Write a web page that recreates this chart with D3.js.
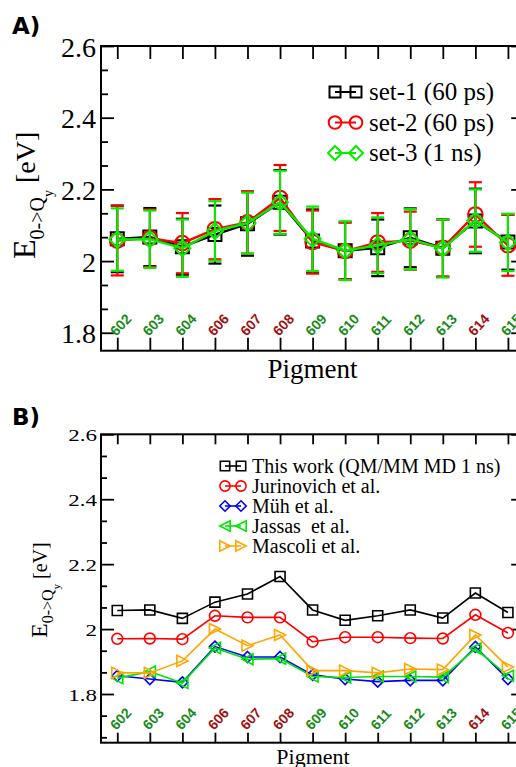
<!DOCTYPE html>
<html>
<head>
<meta charset="utf-8">
<script src="https://cdn.jsdelivr.net/npm/d3@7"></script>
<style>
  body { margin: 0; background: #fff; }
  svg { display: block; }
</style>
</head>
<body>
<script>
// Pigment sites along the x axis
const pigments = ['602','603','604','606','607','608','609','610','611','612','613','614','615'];
// Sites labelled in dark red, the rest in dark green
const redSites = ['606','607','608','614'];

// Panel A: three QM/MM MD sampling sets (value and half error bar, eV)
const set1 = [2.062, 2.067, 2.040, 2.074, 2.104, 2.164, 2.056, 2.029, 2.037, 2.065, 2.036, 2.112, 2.053];
const set1Err = [0.093, 0.081, 0.078, 0.081, 0.089, 0.090, 0.088, 0.080, 0.079, 0.082, 0.080, 0.090, 0.077];
const set2 = [2.057, 2.064, 2.050, 2.089, 2.108, 2.176, 2.053, 2.028, 2.052, 2.057, 2.037, 2.130, 2.044];
const set2Err = [0.097, 0.080, 0.084, 0.084, 0.087, 0.092, 0.088, 0.079, 0.082, 0.081, 0.080, 0.090, 0.085];
const set3 = [2.060, 2.061, 2.036, 2.084, 2.106, 2.164, 2.062, 2.029, 2.044, 2.061, 2.035, 2.113, 2.052];
const set3Err = [0.087, 0.080, 0.080, 0.083, 0.085, 0.088, 0.090, 0.082, 0.078, 0.084, 0.081, 0.087, 0.080];
const setNames = ['set-1 (60 ps)', 'set-2 (60 ps)', 'set-3 (1 ns)'];

// Panel B: comparison with literature (eV)
const thisWork   = [2.057, 2.059, 2.033, 2.083, 2.108, 2.162, 2.059, 2.027, 2.041, 2.059, 2.034, 2.111, 2.051];
const jurinovich = [1.970, 1.971, 1.969, 2.041, 2.036, 2.036, 1.961, 1.975, 1.975, 1.972, 1.971, 2.044, 1.988];
const muh        = [1.856, 1.846, 1.836, 1.946, 1.914, 1.914, 1.859, 1.846, 1.838, 1.842, 1.842, 1.945, 1.846];
const jassas     = [1.849, 1.869, 1.834, 1.942, 1.907, 1.909, 1.854, 1.851, 1.854, 1.854, 1.852, 1.940, 1.856];
const mascoli    = [1.865, 1.865, 1.902, 2.000, 1.949, 1.982, 1.872, 1.872, 1.865, 1.877, 1.875, 1.982, 1.883];
const refNames = ['This work (QM/MM MD 1 ns)', 'Jurinovich et al.', 'Müh et al.', 'Jassas  et al.', 'Mascoli et al.'];

// Axis tick labels
const yTicks = [1.8, 2.0, 2.2, 2.4, 2.6];

const SERIF = '"Liberation Serif", "Times New Roman", serif';
const SANS = '"Liberation Sans", Arial, sans-serif';

const svg = d3.select('body').append('svg').attr('width', 516).attr('height', 767);
svg.append('rect').attr('width', 516).attr('height', 767).attr('fill', '#fff');

const x = d3.scalePoint().domain(pigments).range([101, 524.2]).padding(0.5);
const yA = d3.scaleLinear().domain([1.75, 2.6]).range([350.7, 46]);
const yB = d3.scaleLinear().domain([1.65, 2.6]).range([742.7, 434.3]);

const fmt = d => String(+d.toFixed(1));

// two minor ticks between each pair of major ticks
function minorValues(lo) {
  const out = [];
  for (let k = 1; ; k++) {
    const v = 2.6 - k * 0.2 / 3;
    if (v < lo) break;
    if (k % 3 !== 0) out.push(v);
  }
  return out;
}

// symbol outlines centred on 0,0
function markerPath(type, r) {
  switch (type) {
    case 'square':   return `M${-r},${-r}H${r}V${r}H${-r}Z`;
    case 'diamond':  return `M0,${-r}L${r},0L0,${r}L${-r},0Z`;
    case 'triLeft':  return `M${-r},0L${r},${-r}L${r},${r}Z`;
    case 'triRight': return `M${r},0L${-r},${-r}L${-r},${r}Z`;
  }
}

function drawMarker(g, type, cx, cy, r, color, sw) {
  if (type === 'circle') {
    g.append('circle').attr('cx', cx).attr('cy', cy).attr('r', r)
      .attr('fill', 'none').attr('stroke', color).attr('stroke-width', sw);
  } else {
    g.append('path').attr('d', markerPath(type, r))
      .attr('transform', `translate(${cx},${cy})`)
      .attr('fill', 'none').attr('stroke', color).attr('stroke-width', sw)
      .attr('stroke-linejoin', 'miter');
  }
}

function drawFrame(g, y, o) {
  const [yb, yt] = y.range();
  const x0 = x.range()[0], x1 = x.range()[1];
  const style = sel => {
    sel.select('.domain').remove();
    sel.selectAll('line').attr('stroke', '#000').attr('stroke-width', 1.8);
  };
  // left: major with labels, minor without
  const left = g.append('g').attr('transform', `translate(${x0},0)`)
    .call(d3.axisLeft(y).tickValues(yTicks).tickSizeInner(-o.majorY).tickSizeOuter(0)
      .tickPadding(o.labelPad).tickFormat(fmt));
  style(left);
  left.selectAll('text')
    .style('font-family', SERIF).style('font-size', o.tickFont + 'px')
    .attr('fill', '#000')
    .attr('dy', '0.36em')
    .attr('transform', `scale(1,${o.tickSquash})`);
  const leftMinor = g.append('g').attr('transform', `translate(${x0},0)`)
    .call(d3.axisLeft(y).tickValues(minorValues(y.domain()[0])).tickSizeInner(-o.minorY).tickSizeOuter(0).tickFormat(''));
  style(leftMinor);
  // right mirror
  const right = g.append('g').attr('transform', `translate(${x1},0)`)
    .call(d3.axisRight(y).tickValues(yTicks).tickSizeInner(-o.majorY).tickSizeOuter(0).tickFormat(''));
  style(right);
  const rightMinor = g.append('g').attr('transform', `translate(${x1},0)`)
    .call(d3.axisRight(y).tickValues(minorValues(y.domain()[0])).tickSizeInner(-o.minorY).tickSizeOuter(0).tickFormat(''));
  style(rightMinor);
  // top and bottom
  const top = g.append('g').attr('transform', `translate(0,${yt})`)
    .call(d3.axisTop(x).tickSizeInner(-o.majorX).tickSizeOuter(0).tickFormat(''));
  style(top);
  const bottom = g.append('g').attr('transform', `translate(0,${yb})`)
    .call(d3.axisBottom(x).tickSizeInner(-o.majorX).tickSizeOuter(0).tickFormat(''));
  style(bottom);
  g.append('rect').attr('x', x0).attr('y', yt).attr('width', x1 - x0).attr('height', yb - yt)
    .attr('fill', 'none').attr('stroke', '#000').attr('stroke-width', 2);

  // pigment names, slanted, sitting on the bottom ticks
  const labels = g.append('g').attr('class', 'pigment-labels');
  pigments.forEach(p => {
    labels.append('g')
      .attr('transform', `translate(${x(p) - 1},${yb - o.pigLift}) rotate(-47)`)
      .append('text')
      .attr('x', 0).attr('y', 0)
      .style('font-family', SANS)
      .style('font-weight', 'bold')
      .style('font-size', '14px')
      .attr('fill', redSites.includes(p) ? '#a01010' : '#178a17')
      .text(p);
  });
}

function yTitle(g, tx, ty, sizes) {
  const t = g.append('text').attr('transform', `translate(${tx},${ty}) rotate(-90)`)
    .style('font-family', SERIF);
  t.append('tspan').style('font-size', sizes[0] + 'px').text('E');
  t.append('tspan').style('font-size', sizes[1] + 'px').attr('dy', sizes[3]).text('0->Q');
  t.append('tspan').style('font-size', sizes[2] + 'px').attr('dy', sizes[4]).text('y');
  t.append('tspan').style('font-size', sizes[5] + 'px').attr('dy', -(sizes[3] + sizes[4]))
    .style('white-space', 'pre').text(' [eV]');
}

function plainText(g, tx, ty, size, str, anchor) {
  return g.append('text').attr('x', tx).attr('y', ty)
    .attr('text-anchor', anchor || 'start')
    .style('font-family', SERIF).style('font-size', size + 'px')
    .style('white-space', 'pre').text(str);
}

function panelTag(g, tx, ty, str) {
  g.append('text').attr('x', tx).attr('y', ty)
    .style('font-family', '"DejaVu Sans", sans-serif').style('font-weight', 'bold')
    .style('font-size', '23px').text(str);
}

/* ---------- Panel A ---------- */
const gA = svg.append('g');
drawFrame(gA, yA, {majorY: 13, minorY: 7, majorX: 13, labelPad: 5, tickFont: 28, tickSquash: 1, pigLift: 14});

const seriesA = [
  {v: set1, e: set1Err, color: '#000000', type: 'square', r: 6.5},
  {v: set2, e: set2Err, color: '#ff0000', type: 'circle', r: 7.3},
  {v: set3, e: set3Err, color: '#00f000', type: 'diamond', r: 8}
];
const lineA = d3.line().x((d, i) => x(pigments[i])).y(d => yA(d));
seriesA.forEach(s => {
  const g = gA.append('g');
  pigments.forEach((p, i) => {
    const cx = x(p), lo = yA(s.v[i] - s.e[i]), hi = yA(s.v[i] + s.e[i]);
    g.append('line').attr('x1', cx).attr('x2', cx).attr('y1', lo).attr('y2', hi)
      .attr('stroke', s.color).attr('stroke-width', 2);
    [lo, hi].forEach(yy => g.append('line').attr('x1', cx - 6.5).attr('x2', cx + 6.5)
      .attr('y1', yy).attr('y2', yy).attr('stroke', s.color).attr('stroke-width', 2.2));
  });
  g.append('path').attr('d', lineA(s.v)).attr('fill', 'none')
    .attr('stroke', s.color).attr('stroke-width', 2.4);
  s.v.forEach((v, i) => drawMarker(g, s.type, x(pigments[i]), yA(v), s.r, s.color, 2));
});

// legend A
seriesA.forEach((s, k) => {
  const ly = 92 + k * 30.5;
  const g = gA.append('g');
  g.append('line').attr('x1', 335).attr('x2', 356).attr('y1', ly).attr('y2', ly)
    .attr('stroke', s.color).attr('stroke-width', 2);
  drawMarker(g, s.type, 335, ly, s.r - 1, s.color, 2);
  drawMarker(g, s.type, 356, ly, s.r - 1, s.color, 2);
  plainText(g, 369, ly + 8, 25, setNames[k]);
});

yTitle(gA, 35, 259, [32, 20, 14, 9, 9, 28]);
plainText(gA, 312.5, 378, 27, 'Pigment', 'middle');
panelTag(gA, 12, 34, 'A)');

/* ---------- Panel B ---------- */
const gB = svg.append('g');
drawFrame(gB, yB, {majorY: 13, minorY: 6, majorX: 10, labelPad: 4, tickFont: 23, tickSquash: 0.75, pigLift: 12});

const seriesB = [
  {v: thisWork,   color: '#000000', type: 'square',   r: 5},
  {v: jurinovich, color: '#ff0000', type: 'circle',   r: 5.4},
  {v: muh,        color: '#0000ff', type: 'diamond',  r: 5.5},
  {v: jassas,     color: '#00e600', type: 'triLeft',  r: 5.5},
  {v: mascoli,    color: '#ffa500', type: 'triRight', r: 5.5}
];
const lineB = d3.line().x((d, i) => x(pigments[i])).y(d => yB(d));
seriesB.forEach(s => {
  const g = gB.append('g');
  g.append('path').attr('d', lineB(s.v)).attr('fill', 'none')
    .attr('stroke', s.color).attr('stroke-width', 1.6);
  s.v.forEach((v, i) => drawMarker(g, s.type, x(pigments[i]), yB(v), s.r, s.color, 1.6));
});

// legend B
seriesB.forEach((s, k) => {
  const ly = 466 + k * 20;
  const g = gB.append('g');
  g.append('line').attr('x1', 225).attr('x2', 241).attr('y1', ly).attr('y2', ly)
    .attr('stroke', s.color).attr('stroke-width', 1.6);
  drawMarker(g, s.type, 225, ly, s.r - 0.3, s.color, 1.6);
  drawMarker(g, s.type, 241, ly, s.r - 0.3, s.color, 1.6);
  plainText(g, 252, ly + 6.5, 20, refNames[k]);
});

yTitle(gB, 47, 638, [24, 16, 11, 6, 7, 20]);
plainText(gB, 313, 764, 22, 'Pigment', 'middle');
panelTag(gB, 12, 425, 'B)');
</script>
</body>
</html>
